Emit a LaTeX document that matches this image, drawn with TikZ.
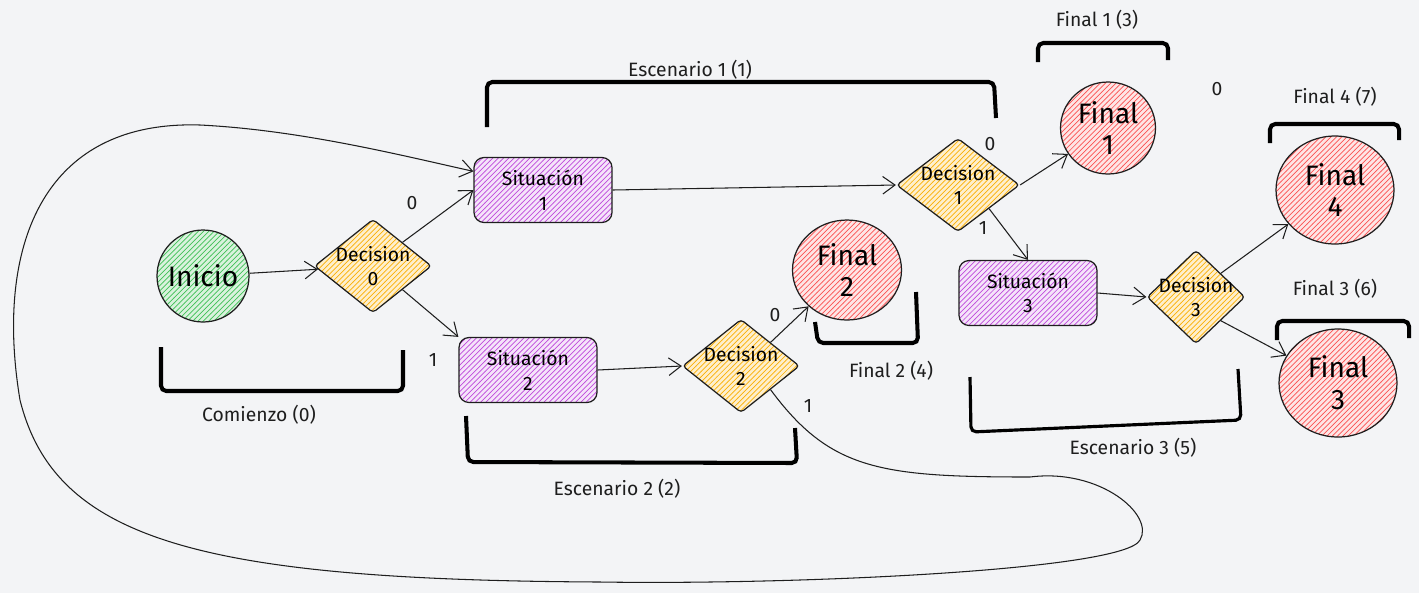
\documentclass[tikz,border=0pt]{standalone}
\usepackage{fontspec}
\setmainfont{Fira Sans}
\usetikzlibrary{patterns}
\usetikzlibrary{positioning}
\usetikzlibrary{shapes.geometric, arrows.meta}

\definecolor{fondo}{HTML}{F3F4F6}
\definecolor{verde}{HTML}{40C057}
\definecolor{morado}{HTML}{BE4BDB}
\definecolor{amarillo}{HTML}{FAB005}
\definecolor{rojo}{HTML}{FA5252}
\definecolor{trazo}{HTML}{1E1E1E}

\begin{document}
\begin{tikzpicture}[x=0.02cm,y=-0.02cm,
  inicio/.style={ellipse,draw=trazo,line width=0.7pt,inner sep=-6pt,minimum width=1.84cm,minimum height=1.84cm,
    preaction={fill=verde!20},pattern=north east lines,pattern color=verde,font=\fontsize{16}{18}\selectfont},
  final/.style={ellipse,draw=trazo,line width=0.7pt,align=center,inner sep=-3pt,
    preaction={fill=rojo!15},pattern=north east lines,pattern color=rojo,font=\fontsize{16}{18}\selectfont},
  decision/.style={diamond,draw=trazo,line width=0.7pt,align=center,inner sep=-3pt,
    minimum width=2.34cm,minimum height=1.86cm,rounded corners=2pt,
    preaction={fill=amarillo!20},pattern=north east lines,pattern color=amarillo,font=\fontsize{11}{14}\selectfont},
  situacion/.style={rectangle,draw=trazo,line width=0.7pt,align=center,rounded corners=0.2cm,
    minimum width=2.76cm,minimum height=1.3cm,
    preaction={fill=morado!15},pattern=north east lines,pattern color=morado,font=\fontsize{11}{14}\selectfont},
  flecha/.style={draw=trazo,line width=0.6pt,-{Straight Barb[length=7pt,width=10pt]}},
  corchete/.style={draw=black,line width=2.3pt,rounded corners=3pt},
  texto/.style={font=\fontsize{11}{13}\selectfont,text=trazo}]
\useasboundingbox (0,0) rectangle (1419,593);
\fill[fondo] (0,0) rectangle (1419,593);

% nodos
\node[inicio] (in) at (203,276) {Inicio};
\node[decision] (d0) at (373,266) {Decision\\0};
\node[situacion] (s1) at (543,190) {Situación\\1};
\node[situacion] (s2) at (528,370) {Situación\\2};
\node[decision] (d2) at (741,366) {Decision\\2};
\node[final,minimum width=2.18cm,minimum height=2cm] (f2) at (847,270) {Final\\2};
\node[decision,minimum width=2.46cm] (d1) at (958,185) {Decision\\1};
\node[final,minimum width=1.9cm,minimum height=1.84cm] (f1) at (1108,128) {Final\\1};
\node[situacion] (s3) at (1028,293) {Situación\\3};
\node[decision,minimum width=1.96cm] (d3) at (1196,297) {Decision\\3};
\node[final,minimum width=2.36cm,minimum height=2.16cm] (f4) at (1335,190) {Final\\4};
\node[final,minimum width=2.36cm,minimum height=2.16cm] (f3) at (1338,383) {Final\\3};

% conexiones
\draw[flecha] (in) -- (d0);
\draw[flecha] (d0.north east) -- (s1.west);
\draw[flecha] (d0.south east) -- (s2.north west);
\draw[flecha] (s1.east) -- (d1.west);
\draw[flecha] (s2.east) -- (d2.west);
\draw[flecha] (d2.north east) -- (f2);
\draw[flecha] (d1.east) -- (f1);
\draw[flecha] (d1.south east) -- (s3.north);
\draw[flecha] (s3.east) -- (d3.west);
\draw[flecha] (d3.north east) -- (f4);
\draw[flecha] (d3.south east) -- (f3);
\draw[flecha] (d2.south east) .. controls (830,470) and (880,477) .. (1030,477)
  .. controls (1100,468) and (1155,515) .. (1140,540)
  .. controls (1125,570) and (800,585) .. (600,582)
  .. controls (200,580) and (55,540) .. (20,400)
  .. controls (-5,250) and (40,120) .. (200,125)
  .. controls (300,130) and (400,155) .. (s1.165);

% etiquetas de las salidas
\node[texto] (e00) at (412,203) {0};
\node[texto] (e01) at (433,360) {1};
\node[texto] (e10) at (990,144) {0};
\node[texto] (e11) at (983,228) {1};
\node[texto] (e20) at (775,315) {0};
\node[texto] (e21) at (808,406) {1};
\node[texto] (ecero) at (1217,89) {0};

% corchetes
\draw[corchete] (487,127) -- (487,82) -- (994,82) -- (996,118);
\node[texto] (lesc1) at (690,70) {Escenario 1 (1)};
\draw[corchete] (1038,62) -- (1038,43) -- (1168,43) -- (1168,60);
\node[texto] (lfin1) at (1097,20) {Final 1 (3)};
\draw[corchete] (1270,143) -- (1270,124) -- (1399,124) -- (1399,140);
\node[texto] (lfin4) at (1335,97) {Final 4 (7)};
\draw[corchete] (1277,340) -- (1277,321) -- (1409,321) -- (1409,338);
\node[texto] (lfin3) at (1335,289) {Final 3 (6)};
\draw[corchete] (161,347) -- (161,391) -- (403,391) -- (403,350);
\node[texto] (lcom) at (259,415) {Comienzo (0)};
\draw[corchete] (466,416) -- (468,462) -- (797,463) -- (795,428);
\node[texto] (lesc2) at (617,489) {Escenario 2 (2)};
\draw[corchete] (815,322) -- (818,343) -- (918,343) -- (916,292);
\node[texto] (lfin2) at (891,371) {Final 2 (4)};
\draw[corchete,line width=1.8pt] (970,377) -- (971,432) -- (1241,420) -- (1238,369);
\node[texto] (lesc3) at (1133,448) {Escenario 3 (5)};

\end{tikzpicture}
\end{document}
